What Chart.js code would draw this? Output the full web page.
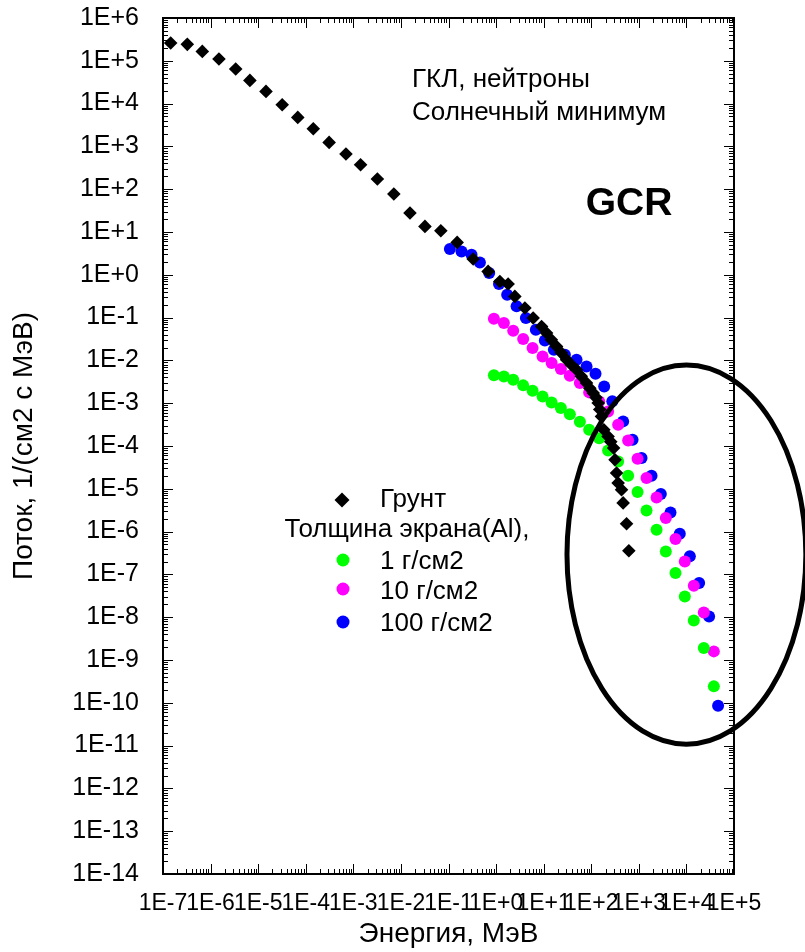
<!DOCTYPE html>
<html>
<head>
<meta charset="utf-8">
<script src="https://cdn.jsdelivr.net/npm/chart.js@4.4.0/dist/chart.umd.min.js"></script>
<style>
    html, body { margin: 0; padding: 0; background: #fff; }
    #wrap { width: 805px; height: 952px; }
</style>
</head>
<body>
<div id="wrap"><canvas id="gcrChart" width="805" height="952"></canvas></div>
<script>
// Энергия (МэВ) и поток 1/(см2 с МэВ)
const gruntEnergy = [1.45e-7, 3.24e-7, 6.7e-7, 1.5e-6, 3.37e-6, 6.7e-6, 1.46e-5, 3.2e-5, 6.8e-5, 1.44e-4,
    3.1e-4, 7.0e-4, 1.42e-3, 3.2e-3, 7.1e-3, 1.55e-2, 3.2e-2, 6.9e-2, 0.152, 0.33,
    0.68, 1.2, 1.79, 2.48, 4.03, 6.01, 9.04, 11.5, 14.5, 18.7,
    23.4, 30.3, 38.0, 49.1, 61.7, 79.6, 93.3, 110, 126, 140,
    151, 164, 184, 226, 257, 295, 316, 340, 367, 433,
    468, 552, 617];
const gruntFlux = [2.61e5, 2.42e5, 1.66e5, 1.10e5, 6.43e4, 3.48e4, 1.93e4, 9.42e3, 4.76e3, 2.59e3,
    1.24e3, 664, 373, 173, 77.3, 27.8, 13.5, 10.7, 5.71, 2.34,
    1.20, 0.70, 0.61, 0.313, 0.168, 0.098, 0.0622, 0.0437, 0.0302, 0.0212,
    0.0151, 0.0104, 7.9e-3, 6.07e-3, 4.27e-3, 2.96e-3, 2.24e-3, 1.73e-3, 1.35e-3, 1.01e-3,
    7.1e-4, 4.92e-4, 2.40e-4, 1.67e-4, 1.26e-4, 8.97e-5, 4.79e-5, 2.34e-5, 1.37e-5, 9.5e-6,
    4.68e-6, 1.53e-6, 3.58e-7];

// 100 г/см2
const al100Energy = [0.107, 0.188, 0.305, 0.457, 0.716, 1.15, 1.71, 2.70, 4.23, 6.85,
    10.6, 16.4, 27.9, 49.1, 79.6, 123, 187, 277, 468, 738,
    1140, 1850, 2900, 4630, 7260, 11800, 18500, 30000, 46300];
const al100Flux = [4.01, 3.52, 2.95, 1.95, 1.10, 0.61, 0.343, 0.183, 0.098, 0.0521,
    0.0293, 0.0178, 0.0136, 0.0104, 7.24e-3, 4.89e-3, 2.47e-3, 1.11e-3, 3.76e-4, 1.40e-4,
    5.25e-5, 2.02e-5, 7.57e-6, 2.81e-6, 8.93e-7, 2.64e-7, 6.30e-8, 1.04e-8, 8.55e-11];

// 1 и 10 г/см2 - общая сетка по энергии
const alEnergy = [0.90, 1.46, 2.29, 3.71, 5.85, 9.48, 14.7, 23.0, 35.5, 57.7,
    90.4, 147, 226, 367, 596, 940, 1450, 2360, 3690, 5900,
    9250, 14300, 23200, 37700];
const al10Flux = [0.0942, 0.0748, 0.0494, 0.0316, 0.0195, 0.0124, 8.69e-3, 6.30e-3, 4.40e-3, 2.96e-3,
    1.79e-3, 1.10e-3, 6.43e-4, 3.15e-4, 1.35e-4, 5.05e-5, 1.79e-5, 6.30e-6, 2.08e-6, 6.71e-7,
    2.01e-7, 5.45e-8, 1.29e-8, 1.59e-9];
const al1Flux = [4.47e-3, 4.23e-3, 3.54e-3, 2.61e-3, 1.96e-3, 1.44e-3, 1.04e-3, 7.73e-4, 5.53e-4, 3.70e-4,
    2.40e-4, 1.51e-4, 7.89e-5, 4.37e-5, 2.02e-5, 8.41e-6, 3.13e-6, 1.11e-6, 3.44e-7, 1.08e-7,
    3.06e-8, 8.41e-9, 1.91e-9, 2.42e-10];

const xTickValues = [1e-7, 1e-6, 1e-5, 1e-4, 1e-3, 1e-2, 1e-1, 1e0, 1e1, 1e2, 1e3, 1e4, 1e5];
const xTickLabels = ['1E-7', '1E-6', '1E-5', '1E-4', '1E-3', '1E-2', '1E-1', '1E+0', '1E+1', '1E+2', '1E+3', '1E+4', '1E+5'];
const yTickValues = [1e-14, 1e-13, 1e-12, 1e-11, 1e-10, 1e-9, 1e-8, 1e-7, 1e-6, 1e-5, 1e-4,
    1e-3, 1e-2, 1e-1, 1e0, 1e1, 1e2, 1e3, 1e4, 1e5, 1e6];
const yTickLabels = ['1E-14', '1E-13', '1E-12', '1E-11', '1E-10', '1E-9', '1E-8', '1E-7', '1E-6', '1E-5', '1E-4',
    '1E-3', '1E-2', '1E-1', '1E+0', '1E+1', '1E+2', '1E+3', '1E+4', '1E+5', '1E+6'];

const seriesLabels = ['Грунт', '1 г/см2', '10 г/см2', '100 г/см2'];
const legendHeader = 'Толщина экрана(Al),';
const noteLines = ['ГКЛ, нейтроны', 'Солнечный минимум'];
const noteTag = 'GCR';

// эллипс: центр (МэВ, поток) и полуоси в декадах
const ellipseCenter = [1e4, 2.9e-7];
const ellipseHalfDecades = [2.51, 4.43];

const FONT = '"Liberation Sans", Arial, sans-serif';
Chart.defaults.font.family = FONT;
Chart.defaults.color = '#000';

function toPoints(xs, ys) {
    return xs.map((x, i) => ({ x: x, y: ys[i] }));
}

// рамка и засечки внутрь, как в Grapher
const frameTicks = {
    id: 'frameTicks',
    afterDatasetsDraw(chart) {
        const { ctx, chartArea: a, scales: { x, y } } = chart;
        ctx.save();
        ctx.strokeStyle = '#000';
        ctx.lineWidth = 1;
        ctx.beginPath();
        yTickValues.forEach((v, i) => {
            for (let m = 1; m <= (i === yTickValues.length - 1 ? 1 : 9); m++) {
                const py = Math.round(y.getPixelForValue(v * m)) + 0.5;
                const len = m === 1 ? 10 : 5;
                ctx.moveTo(a.left, py); ctx.lineTo(a.left + len, py);
                ctx.moveTo(a.right, py); ctx.lineTo(a.right - len, py);
            }
        });
        xTickValues.forEach((v, i) => {
            for (let m = 1; m <= (i === xTickValues.length - 1 ? 1 : 9); m++) {
                const px = Math.round(x.getPixelForValue(v * m)) + 0.5;
                const len = m === 1 ? 10 : 5;
                ctx.moveTo(px, a.bottom); ctx.lineTo(px, a.bottom - len);
                ctx.moveTo(px, a.top); ctx.lineTo(px, a.top + len);
            }
        });
        ctx.stroke();
        ctx.lineWidth = 2;
        ctx.strokeRect(a.left, a.top, a.right - a.left, a.bottom - a.top);

        // эллипс
        const cx = x.getPixelForValue(ellipseCenter[0]);
        const cy = y.getPixelForValue(ellipseCenter[1]);
        const rx = x.getPixelForValue(ellipseCenter[0] * Math.pow(10, ellipseHalfDecades[0])) - cx;
        const ry = cy - y.getPixelForValue(ellipseCenter[1] * Math.pow(10, ellipseHalfDecades[1]));
        ctx.lineWidth = 5;
        ctx.beginPath();
        ctx.ellipse(cx, cy, rx, ry, 0, 0, Math.PI * 2);
        ctx.stroke();
        ctx.restore();
    }
};

// подписи и легенда
const notesLegend = {
    id: 'notesLegend',
    afterDraw(chart) {
        const ctx = chart.ctx;
        const ds = chart.data.datasets;
        ctx.save();
        ctx.fillStyle = '#000';
        ctx.textBaseline = 'middle';
        ctx.textAlign = 'left';
        ctx.font = '26px ' + FONT;
        ctx.fillText(noteLines[0], 412, 80);
        ctx.fillText(noteLines[1], 412, 113);
        ctx.font = 'bold 39px ' + FONT;
        ctx.textAlign = 'center';
        ctx.fillText(noteTag, 629, 204);

        ctx.font = '26px ' + FONT;
        ctx.fillText(legendHeader, 407, 530);
        ctx.textAlign = 'left';
        const rows = [
            { i: 0, ty: 500, my: 500, mx: 342 },
            { i: 1, ty: 562, my: 560, mx: 343 },
            { i: 2, ty: 592, my: 589, mx: 343 },
            { i: 3, ty: 624, my: 622, mx: 343 }
        ];
        rows.forEach(r => {
            const d = ds[r.i];
            ctx.fillStyle = '#000';
            ctx.fillText(d.label, 380, r.ty);
            ctx.fillStyle = d.backgroundColor;
            ctx.beginPath();
            if (d.pointStyle === 'rectRot') {
                const s = 7.5;
                ctx.moveTo(r.mx - s, r.my); ctx.lineTo(r.mx, r.my - s);
                ctx.lineTo(r.mx + s, r.my); ctx.lineTo(r.mx, r.my + s);
                ctx.closePath();
            } else {
                ctx.arc(r.mx, r.my, 6.5, 0, Math.PI * 2);
            }
            ctx.fill();
        });
        ctx.restore();
    }
};

const ctx = document.getElementById('gcrChart').getContext('2d');
new Chart(ctx, {
    type: 'scatter',
    data: {
        datasets: [
            { label: seriesLabels[0], data: toPoints(gruntEnergy, gruntFlux), pointStyle: 'rectRot',
              pointRadius: 6.8, backgroundColor: '#000000', borderWidth: 0 },
            { label: seriesLabels[1], data: toPoints(alEnergy, al1Flux), pointStyle: 'circle',
              pointRadius: 6, backgroundColor: '#00ff00', borderWidth: 0 },
            { label: seriesLabels[2], data: toPoints(alEnergy, al10Flux), pointStyle: 'circle',
              pointRadius: 6, backgroundColor: '#ff00ff', borderWidth: 0 },
            { label: seriesLabels[3], data: toPoints(al100Energy, al100Flux), pointStyle: 'circle',
              pointRadius: 6, backgroundColor: '#0000ff', borderWidth: 0 }
        ]
    },
    options: {
        responsive: false,
        animation: false,
        events: [],
        layout: { padding: { top: 18, right: 71, bottom: 0, left: 0 } },
        plugins: { legend: { display: false }, tooltip: { enabled: false } },
        scales: {
            x: {
                type: 'logarithmic',
                min: 1e-7,
                max: 1e5,
                grid: { display: false },
                border: { display: false },
                afterBuildTicks: s => { s.ticks = xTickValues.map(v => ({ value: v })); },
                afterFit: s => { s.height = 78; s.paddingLeft = 0; s.paddingRight = 0; },
                ticks: {
                    autoSkip: false, maxRotation: 0, minRotation: 0, padding: 8,
                    font: { size: 23 },
                    callback: (v, i) => xTickLabels[i]
                },
                title: { display: true, text: 'Энергия, МэВ', font: { size: 28 }, padding: { top: 0, bottom: 1 } }
            },
            y: {
                type: 'logarithmic',
                min: 1e-14,
                max: 1e6,
                grid: { display: false },
                border: { display: false },
                afterBuildTicks: s => { s.ticks = yTickValues.map(v => ({ value: v })); },
                afterFit: s => { s.width = 163; s.paddingTop = 0; s.paddingBottom = 0; },
                ticks: {
                    autoSkip: false, padding: 16,
                    font: { size: 25 },
                    callback: (v, i) => yTickLabels[i]
                },
                title: { display: true, text: 'Поток, 1/(см2 с МэВ)', font: { size: 28 }, padding: { top: 7, bottom: 0 } }
            }
        }
    },
    plugins: [frameTicks, notesLegend]
});
</script>
</body>
</html>
